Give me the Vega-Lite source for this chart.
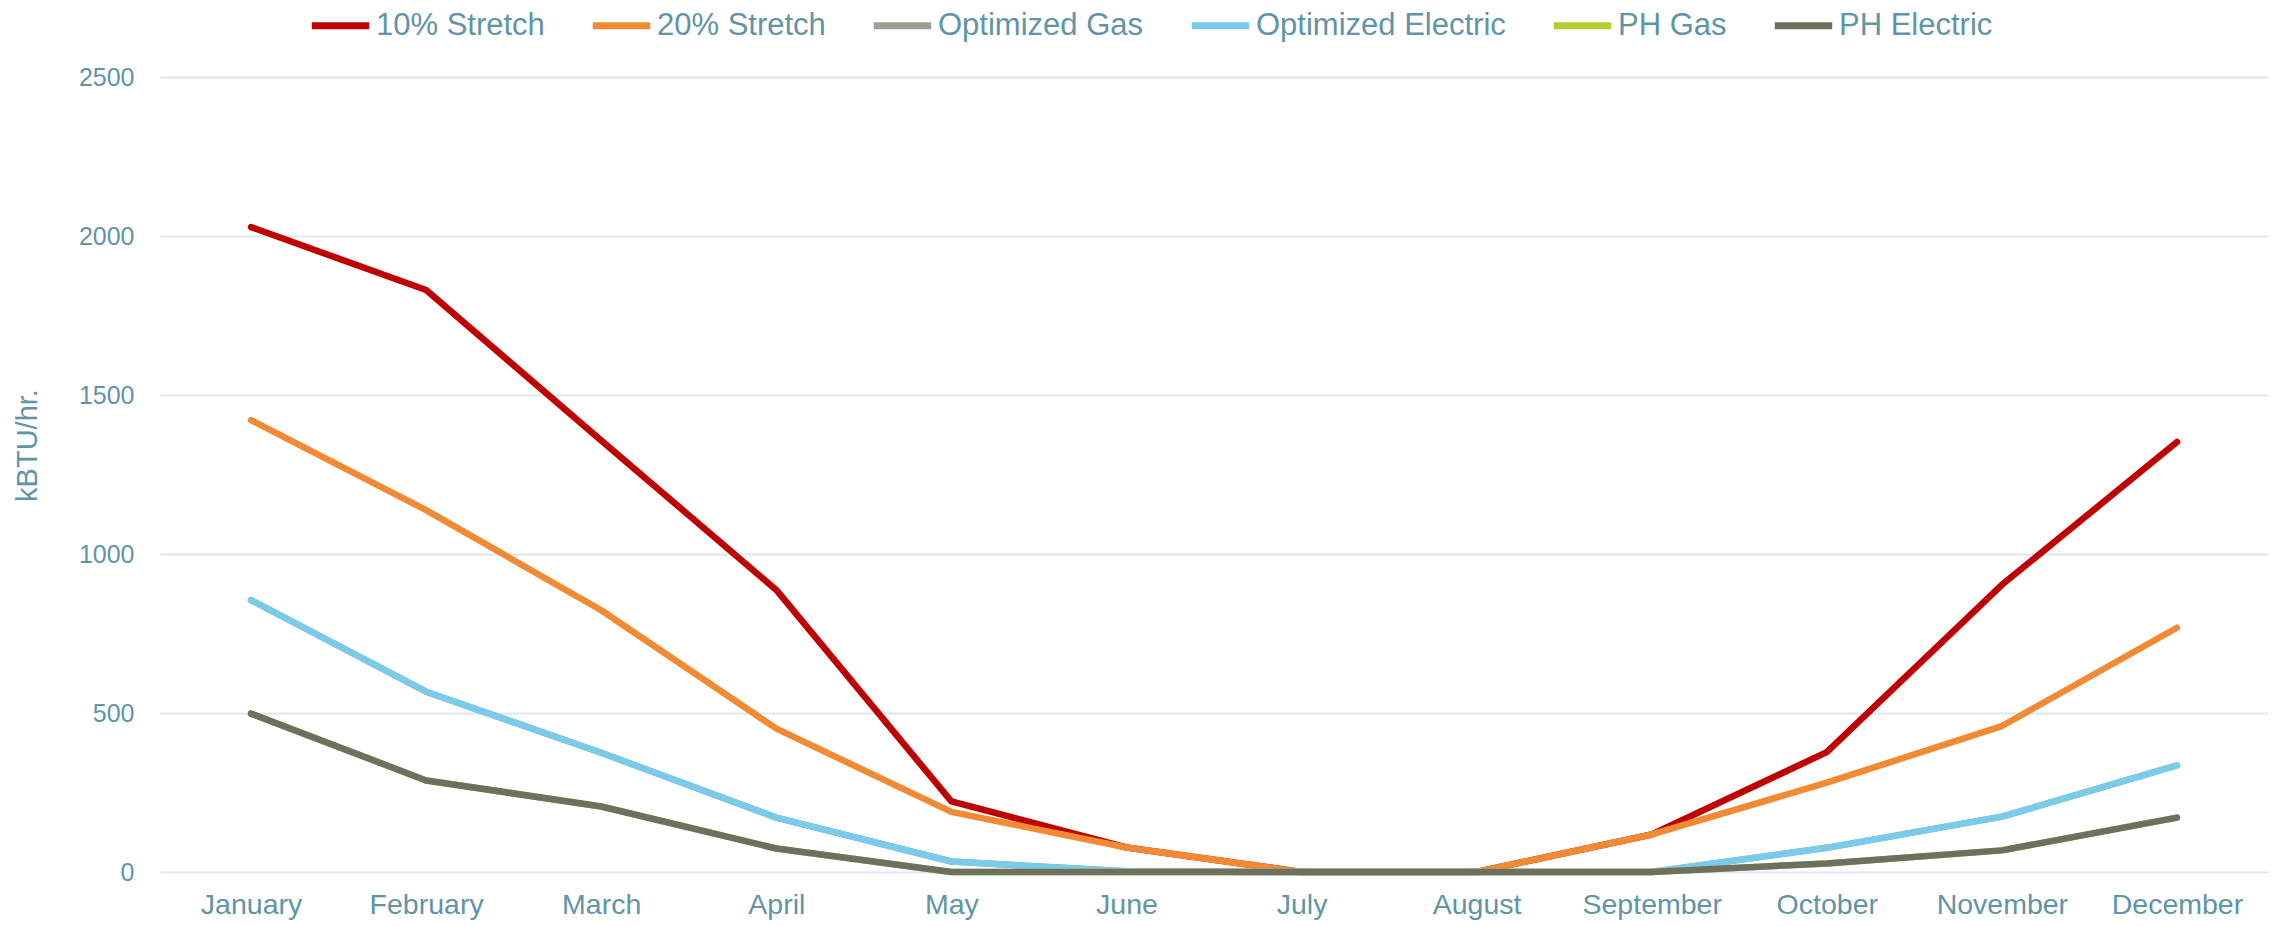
{
  "$schema": "https://vega.github.io/schema/vega-lite/v6.json",
  "width": 2108,
  "height": 795,
  "autosize": "none",
  "padding": {"left": 160, "top": 77, "right": 12, "bottom": 54},
  "background": "white",
  "data": {
    "values": [
      {"series": "10% Stretch", "month": "January", "value": 2028},
      {"series": "10% Stretch", "month": "February", "value": 1830},
      {"series": "10% Stretch", "month": "March", "value": 1357},
      {"series": "10% Stretch", "month": "April", "value": 887},
      {"series": "10% Stretch", "month": "May", "value": 222},
      {"series": "10% Stretch", "month": "June", "value": 77},
      {"series": "10% Stretch", "month": "July", "value": 0},
      {"series": "10% Stretch", "month": "August", "value": 0},
      {"series": "10% Stretch", "month": "September", "value": 118},
      {"series": "10% Stretch", "month": "October", "value": 377},
      {"series": "10% Stretch", "month": "November", "value": 903},
      {"series": "10% Stretch", "month": "December", "value": 1352},
      {"series": "20% Stretch", "month": "January", "value": 1421},
      {"series": "20% Stretch", "month": "February", "value": 1138},
      {"series": "20% Stretch", "month": "March", "value": 823},
      {"series": "20% Stretch", "month": "April", "value": 451},
      {"series": "20% Stretch", "month": "May", "value": 189},
      {"series": "20% Stretch", "month": "June", "value": 77},
      {"series": "20% Stretch", "month": "July", "value": 0},
      {"series": "20% Stretch", "month": "August", "value": 0},
      {"series": "20% Stretch", "month": "September", "value": 118},
      {"series": "20% Stretch", "month": "October", "value": 281},
      {"series": "20% Stretch", "month": "November", "value": 459},
      {"series": "20% Stretch", "month": "December", "value": 768},
      {"series": "Optimized Gas", "month": "January", "value": 855},
      {"series": "Optimized Gas", "month": "February", "value": 567},
      {"series": "Optimized Gas", "month": "March", "value": 375},
      {"series": "Optimized Gas", "month": "April", "value": 171},
      {"series": "Optimized Gas", "month": "May", "value": 33},
      {"series": "Optimized Gas", "month": "June", "value": 2},
      {"series": "Optimized Gas", "month": "July", "value": 0},
      {"series": "Optimized Gas", "month": "August", "value": 0},
      {"series": "Optimized Gas", "month": "September", "value": 0},
      {"series": "Optimized Gas", "month": "October", "value": 76},
      {"series": "Optimized Gas", "month": "November", "value": 174},
      {"series": "Optimized Gas", "month": "December", "value": 335},
      {"series": "Optimized Electric", "month": "January", "value": 855},
      {"series": "Optimized Electric", "month": "February", "value": 567},
      {"series": "Optimized Electric", "month": "March", "value": 375},
      {"series": "Optimized Electric", "month": "April", "value": 171},
      {"series": "Optimized Electric", "month": "May", "value": 33},
      {"series": "Optimized Electric", "month": "June", "value": 2},
      {"series": "Optimized Electric", "month": "July", "value": 0},
      {"series": "Optimized Electric", "month": "August", "value": 0},
      {"series": "Optimized Electric", "month": "September", "value": 0},
      {"series": "Optimized Electric", "month": "October", "value": 76},
      {"series": "Optimized Electric", "month": "November", "value": 174},
      {"series": "Optimized Electric", "month": "December", "value": 335},
      {"series": "PH Gas", "month": "January", "value": 498},
      {"series": "PH Gas", "month": "February", "value": 288},
      {"series": "PH Gas", "month": "March", "value": 206},
      {"series": "PH Gas", "month": "April", "value": 74},
      {"series": "PH Gas", "month": "May", "value": 0},
      {"series": "PH Gas", "month": "June", "value": 0},
      {"series": "PH Gas", "month": "July", "value": 0},
      {"series": "PH Gas", "month": "August", "value": 0},
      {"series": "PH Gas", "month": "September", "value": 0},
      {"series": "PH Gas", "month": "October", "value": 27},
      {"series": "PH Gas", "month": "November", "value": 68},
      {"series": "PH Gas", "month": "December", "value": 171},
      {"series": "PH Electric", "month": "January", "value": 498},
      {"series": "PH Electric", "month": "February", "value": 288},
      {"series": "PH Electric", "month": "March", "value": 206},
      {"series": "PH Electric", "month": "April", "value": 74},
      {"series": "PH Electric", "month": "May", "value": 0},
      {"series": "PH Electric", "month": "June", "value": 0},
      {"series": "PH Electric", "month": "July", "value": 0},
      {"series": "PH Electric", "month": "August", "value": 0},
      {"series": "PH Electric", "month": "September", "value": 0},
      {"series": "PH Electric", "month": "October", "value": 27},
      {"series": "PH Electric", "month": "November", "value": 68},
      {"series": "PH Electric", "month": "December", "value": 171}
    ]
  },
  "mark": {"type": "line", "strokeWidth": 6.5, "strokeCap": "round", "strokeJoin": "round"},
  "encoding": {
    "x": {
      "field": "month",
      "type": "nominal",
      "sort": ["January", "February", "March", "April", "May", "June", "July", "August", "September", "October", "November", "December"],
      "scale": {"type": "point", "padding": 0.52},
      "axis": {
        "title": null,
        "labelAngle": 0,
        "domain": false,
        "ticks": false,
        "labelPadding": 18,
        "labelFont": "Liberation Sans",
        "labelFontSize": 28.5,
        "labelColor": "#6094A6"
      }
    },
    "y": {
      "field": "value",
      "type": "quantitative",
      "scale": {"domain": [0, 2500], "nice": false},
      "axis": {
        "title": "kBTU/hr.",
        "titleFont": "Liberation Sans",
        "titleFontSize": 29,
        "titleFontWeight": "normal",
        "titleColor": "#6094A6",
        "titlePadding": 36,
        "titleY": 368,
        "format": "d",
        "values": [0, 500, 1000, 1500, 2000, 2500],
        "domain": false,
        "ticks": false,
        "grid": true,
        "gridColor": "#DCE8EE",
        "gridWidth": 2,
        "labelPadding": 26,
        "labelFont": "Liberation Sans",
        "labelFontSize": 25,
        "labelColor": "#6094A6"
      }
    },
    "color": {
      "field": "series",
      "type": "nominal",
      "sort": ["10% Stretch", "20% Stretch", "Optimized Gas", "Optimized Electric", "PH Gas", "PH Electric"],
      "scale": {
        "domain": ["10% Stretch", "20% Stretch", "Optimized Gas", "Optimized Electric", "PH Gas", "PH Electric"],
        "range": ["#C00000", "#F28A33", "#A09E93", "#79CBEA", "#B4CE32", "#6F6F60"]
      },
      "legend": {
        "title": null,
        "orient": "none",
        "direction": "horizontal",
        "legendX": 148,
        "legendY": -84,
        "symbolType": "stroke",
        "symbolSize": 3300,
        "symbolStrokeWidth": 7,
        "labelFont": "Liberation Sans",
        "labelFontSize": 31,
        "labelColor": "#6094A6",
        "labelOffset": 3,
        "columnPadding": 33,
        "labelLimit": 400
      }
    }
  },
  "config": {"view": {"stroke": null}}
}
